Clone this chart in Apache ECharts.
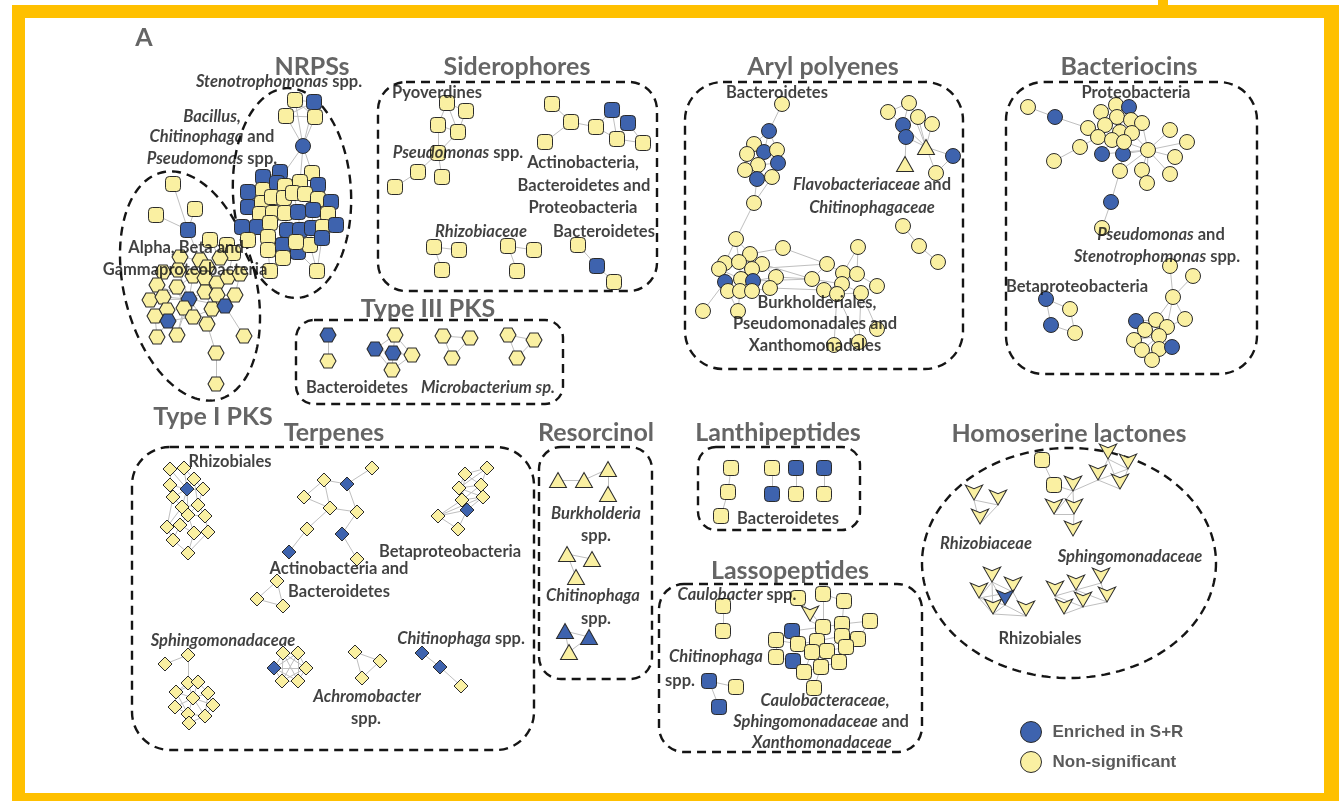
<!DOCTYPE html>
<html><head><meta charset="utf-8">
<script src="https://cdn.jsdelivr.net/npm/echarts@6/dist/echarts.min.js"></script>
<style>
html,body{margin:0;padding:0;background:#fff;overflow:hidden;}
#chart{position:absolute;left:0;top:0;width:1339px;height:801px;}
#frame{position:absolute;left:12px;top:5px;width:1327px;height:796px;box-sizing:border-box;border-style:solid;border-color:#FFC000;border-width:13px 15px 8px 13px;pointer-events:none;}
#tick{position:absolute;left:1158px;top:0;width:10px;height:6px;background:#FFC000;}
</style></head><body>
<div id="chart"></div><div id="frame"></div><div id="tick"></div>
<script>
// ---------------- DATA ----------------
// node: [x, y, enriched(1)/non-significant(0), optional node class]
const nrpsNodes = [
 [295,100,0],[314,102,1],[286,116,0],[315,117,0],[303,146,1,'c'],
 [263,177,1],[280,172,1],[312,173,0],[248,192,1],[263,190,0],
 [277,183,1],[285,186,0],[300,182,0],[318,185,1],[248,207,1],
 [262,203,0],[272,197,0],[284,198,0],[293,193,0],[305,194,0],
 [318,199,0],[331,202,1],[260,214,0],[273,213,0],[285,213,0],
 [298,212,1],[313,210,1],[328,214,0],[242,227,1],[257,227,1],
 [270,223,0],[287,230,1],[300,230,1],[312,228,1],[323,227,0],
 [248,240,0],[268,237,0],[283,245,1],[298,252,1],[310,245,0],
 [322,238,1],[268,250,0],[283,258,0],[270,271,0],[317,271,0],
 [336,225,1],[296,242,0]
];
const nrpsLinks = [[0,1],[0,2],[1,3],[2,3],[0,3],[1,2],[0,4],[1,4],[2,4],[3,4],[4,12],[4,7],[4,10],[5,6],[5,9],[6,10],[7,12],[7,13],[8,9],[8,14],[9,16],[10,11],[11,17],[12,18],[12,19],[13,20],[19,20],[20,21],[14,15],[15,22],[16,23],[17,24],[18,25],[19,26],[20,27],[22,29],[23,30],[24,31],[25,32],[26,33],[27,34],[28,29],[28,35],[29,36],[30,36],[31,37],[32,38],[33,39],[34,40],[21,45],[36,41],[37,42],[41,43],[42,43],[38,44],[39,44],[40,44],[37,46],[46,38],[11,18],[16,17],[23,24],[30,31],[9,15]];

const pks1Nodes = [
 [173,184,0,'s'],[156,215,0,'s'],[195,209,0,'s'],[188,230,1,'s'],[210,240,0,'s'],[227,245,0,'s'],[233,253,0,'s'],
 [180,257,0],[200,260,0],[220,258,0],[207,267,0],[163,272,0],[178,270,0],
 [193,276,0],[205,278,0],[217,283,0],[228,277,0],[240,274,0],
 [157,285,0],[177,287,0],[150,300,0],[163,297,0],[189,299,1],
 [205,292,0],[217,295,0],[235,295,0],[184,308,0],[212,309,0],
 [225,306,1],[167,310,0],[155,316,0],[193,317,0],[168,321,1],
 [207,324,0],[157,337,0],[177,335,0],[244,336,0],[216,353,0],[216,384,0]
];
const pks1Links = [[0,3],[1,3],[2,3],[3,8],[4,9],[5,9],[6,16],[4,8],[7,8],[7,12],[8,10],[9,10],[10,13],[10,14],[12,13],[11,12],[11,18],[13,19],[13,22],[14,15],[15,16],[16,17],[15,24],[14,23],[18,21],[19,21],[20,21],[21,22],[22,23],[23,24],[24,25],[22,26],[23,27],[24,28],[27,28],[26,31],[27,31],[21,29],[29,30],[29,32],[31,32],[31,33],[28,33],[30,34],[32,34],[32,35],[35,26],[28,36],[33,37],[37,38],[17,25],[19,26],[22,28],[18,22],[20,22],[12,22],[22,33],[22,35]];

const sidNodes = [
 [447,103,0],[466,111,0],[438,125,0],[458,132,0],[438,153,0],[418,172,0],[442,177,0],[395,187,0],
 [552,104,0],[571,122,0],[596,127,0],[612,110,1],[628,123,1],[617,139,0],[643,143,0],[545,142,0],
 [434,247,0],[459,250,0],[442,270,0],[508,246,0],[534,250,0],[517,271,0],
 [578,245,0],[597,266,1],[614,282,0]
];
const sidLinks = [[0,1],[0,2],[0,3],[1,3],[2,3],[2,4],[3,4],[4,5],[4,6],[5,7],[8,9],[9,10],[9,15],[10,11],[10,13],[11,12],[11,13],[12,13],[12,14],[13,14],[16,17],[16,18],[19,20],[19,21],[22,23],[23,24]];

const pks3Nodes = [[328,335,1],[328,361,0],[395,335,0],[375,349,1],[393,353,1],[412,355,0],[392,370,0],[443,336,0],[470,338,0],[452,358,0],[508,335,0],[534,340,0],[517,358,0]];
const pks3Links = [[0,1],[2,4],[3,4],[4,5],[4,6],[2,5],[3,6],[2,3],[5,6],[7,8],[7,9],[8,9],[10,11],[10,12],[11,12]];

const arylNodes = [
 [782,104,0],[769,131,1],[754,144,0],[747,154,0],[764,152,1],[777,150,0],[758,165,0],[778,163,1],[745,170,0],[757,179,1],[772,177,0],[754,203,0],
 [909,103,0],[888,112,0],[918,117,0],[932,124,0],[903,125,1],[906,137,1],[926,147,0,'t'],[905,164,0,'t'],[953,156,1],[936,173,0],
 [903,226,0],[919,246,0],[938,262,0],
 [736,239,0],[750,254,0],[783,248,0],[725,263,0],[739,262,0],[762,264,0],[719,269,0],[752,269,0],[741,279,0],[753,281,1],[725,282,1],[776,277,0],[728,291,0],[740,291,0],[752,291,0],[770,288,0],[703,311,0],[738,311,0],
 [858,247,0],[827,264,0],[812,279,0],[843,273,0],[857,274,0],[842,284,0],[824,290,0],[837,294,0],[861,293,0],[877,286,0],[877,329,0],[859,342,0],[834,345,0]
];
const arylLinks = [[0,1],[1,2],[1,4],[1,5],[2,3],[2,4],[3,6],[4,5],[4,6],[4,7],[5,7],[6,7],[6,8],[6,9],[7,10],[8,9],[9,10],[9,11],[10,11],[11,25],
 [12,13],[12,14],[12,16],[13,16],[14,15],[14,16],[16,17],[16,18],[17,18],[17,19],[18,20],[18,21],[20,21],[14,18],[12,18],[15,18],
 [22,23],[23,24],
 [25,26],[25,28],[25,29],[26,29],[26,30],[26,27],[28,31],[29,32],[30,32],[28,29],[31,35],[32,34],[33,34],[33,35],[29,33],[35,37],[37,38],[38,39],[34,39],[36,34],[36,40],[40,39],[35,41],[38,42],[37,42],[30,36],[31,33],[32,33],
 [36,45],[32,44],[27,44],[40,49],[34,45],[30,45],
 [43,46],[43,47],[44,46],[45,48],[46,47],[46,48],[47,48],[48,49],[48,50],[49,50],[50,51],[51,52],[47,52],[48,51],[50,55],[51,53],[51,54],[50,54],[44,45],[45,49]];

const bacNodes = [
 [1028,107,0],[1055,117,1],[1088,128,0],[1080,147,0],[1054,161,0],[1102,154,1],[1123,154,1],[1101,112,0],[1116,105,0],[1129,107,1],
 [1117,117,0],[1131,120,0],[1142,123,0],[1105,125,0],[1120,132,0],[1132,133,0],[1098,137,0],[1112,140,0],[1124,142,0],[1148,150,0],
 [1170,130,0],[1187,142,0],[1175,157,0],[1170,174,0],[1120,171,0],[1142,170,0],[1147,183,0],[1111,202,1],[1102,228,0],
 [1046,299,1],[1070,309,0],[1051,325,1],[1075,333,0],
 [1170,266,0],[1193,276,0],[1173,297,0],[1185,319,0],[1136,321,1],[1156,320,0],[1145,330,0],[1167,327,0],[1159,336,0],[1134,340,0],[1142,350,0],[1159,349,0],[1172,347,1],[1152,360,0]
];
const bacLinks = [[0,1],[1,2],[2,16],[3,4],[3,16],[7,8],[8,9],[7,10],[9,10],[10,11],[11,12],[13,14],[14,15],[16,17],[17,18],[7,13],[10,14],[11,15],[12,15],[15,18],[14,17],[18,19],[15,19],[19,20],[19,21],[19,22],[19,23],[19,6],[19,5],[19,25],[19,26],[19,24],[6,24],[24,27],[27,28],[18,6],[17,5],[12,19],[25,26],[13,16],
 [29,30],[29,31],[30,32],[31,32],
 [33,35],[34,35],[35,36],[35,38],[35,40],[36,40],[37,39],[38,39],[38,40],[39,41],[40,41],[41,42],[41,43],[41,44],[41,45],[42,43],[43,46],[44,46],[44,45],[39,42],[37,38],[46,41]];

const terpRhizNodes = [[170,469,0],[184,468,0],[194,479,0],[170,485,0],[187,489,1],[203,489,0],[173,497,0],[182,507,0],[198,505,0],[188,515,0],[205,516,0],[167,527,0],[180,525,0],[194,533,0],[208,532,0],[173,540,0],[188,553,0]];
const terpRhizLinks = [[0,1],[0,3],[1,2],[1,4],[2,4],[3,4],[2,5],[4,5],[3,6],[4,6],[4,7],[6,7],[7,8],[5,8],[7,9],[8,9],[8,10],[9,10],[9,12],[7,11],[11,12],[12,13],[9,13],[10,14],[13,14],[11,15],[12,15],[15,16],[13,16],[14,16],[4,9],[6,11],[0,4],[2,8]];
const terpActNodes = [[324,480,0],[304,497,0],[347,484,1],[372,468,0],[330,508,0],[307,529,0],[357,512,0],[342,534,1],[289,552,1],[357,559,0],[277,581,0],[257,599,0],[283,606,0]];
const terpActLinks = [[0,1],[0,2],[2,3],[0,4],[1,4],[4,5],[2,6],[4,6],[6,7],[7,9],[5,8],[10,11],[10,12],[11,12]];
const terpBetaNodes = [[487,468,0],[465,474,0],[459,488,0],[481,485,0],[483,497,0],[462,500,0],[467,510,1],[438,516,0],[458,529,0]];
const terpBetaLinks = [[0,1],[0,3],[1,2],[1,3],[2,3],[2,5],[3,4],[4,5],[3,5],[4,6],[5,6],[5,7],[6,7],[6,8],[7,8],[2,4],[0,2],[1,5],[2,6],[4,7]];
const terpSphNodes = [[188,655,0],[165,664,0],[188,683,0],[198,682,0],[176,692,0],[208,693,0],[193,698,0],[175,707,0],[213,705,0],[188,714,0],[205,716,0],[189,723,0]];
const terpSphLinks = [[0,1],[0,2],[2,3],[2,4],[3,5],[4,6],[5,6],[4,7],[5,8],[6,7],[6,8],[7,9],[8,10],[9,10],[9,11],[10,11],[6,9],[6,10],[2,6],[3,6],[4,9],[5,10],[3,4]];
const terpHexNodes = [[283,653,0],[298,653,0],[274,668,1],[306,668,0],[282,681,0],[298,681,0]];
const terpHexLinks = [[0,1],[0,2],[0,3],[0,4],[0,5],[1,2],[1,3],[1,4],[1,5],[2,3],[2,4],[2,5],[3,4],[3,5],[4,5]];
const terpAchNodes = [[355,652,0],[380,661,0],[362,678,0]];
const terpAchLinks = [[0,1],[0,2],[1,2]];
const terpChiNodes = [[422,653,1],[440,667,1],[461,686,0]];
const terpChiLinks = [[0,1],[1,2]];

const resNodes = [[558,480,0],[584,480,0],[608,469,0],[608,494,0],[567,554,0],[592,559,0],[576,577,0],[565,631,1],[589,637,1],[569,652,0]];
const resLinks = [[0,1],[1,2],[2,3],[4,5],[4,6],[7,8],[7,9],[8,9]];

const lanNodes = [[731,468,0],[728,492,0],[721,516,0],[772,468,0],[772,494,1],[796,468,1],[796,494,0],[824,468,1],[824,494,0]];
const lanLinks = [[0,1],[1,2],[3,4],[5,6],[7,8]];

const lasNodes = [[723,606,0],[723,631,0],[709,681,1],[736,687,0],[719,707,1],
 [798,598,0],[823,594,0],[844,601,0],[810,621,0,'a'],[792,631,1],[823,627,0],[842,624,0],[870,621,0],[776,640,0],[798,644,0],[817,641,0],[842,636,0],[858,639,0],[812,652,0],[827,651,0],[846,647,0],[793,661,1],[776,657,0],[804,672,0],[821,667,0],[839,662,0],[814,688,0]];
const lasLinks = [[0,1],[2,3],[2,4],[6,10],[7,11],[6,7],[8,10],[5,10],[9,13],[9,14],[10,15],[10,11],[11,12],[11,16],[12,17],[13,14],[14,15],[15,16],[16,17],[14,18],[15,19],[16,20],[18,19],[19,20],[13,22],[21,22],[21,23],[18,23],[19,24],[20,25],[23,24],[24,25],[24,26],[23,26],[15,18],[16,19],[9,10]];

const hslNodes = [[1042,460,0,'s'],[1054,485,0,'s'],[1073,491,0],[1054,514,0],[1074,514,0],[1073,536,0],[1098,480,0],[1108,459,0],[1128,469,0],[1120,489,0],
 [974,500,0],[998,505,0],[980,524,0],
 [992,582,0],[979,598,0],[993,614,0],[1013,592,0],[1005,605,1],[1026,616,0],
 [1055,596,0],[1076,590,0],[1101,583,0],[1083,607,0],[1107,602,0],[1064,614,0]];
const hslLinks = [[0,1],[1,2],[2,6],[2,3],[2,4],[3,4],[4,5],[6,7],[6,9],[7,8],[8,9],[7,9],[6,8],[10,11],[10,12],[11,12],[13,14],[13,16],[13,17],[14,15],[14,17],[15,17],[16,17],[16,18],[17,18],[15,18],[13,15],[14,16],[19,20],[20,21],[19,22],[20,23],[21,23],[22,23],[24,22],[19,24],[20,22]];

// enclosures: rounded boxes [x1, y1, x2, y2, cornerRadius] and ellipses [cx, cy, rx, ry, tiltDeg]
const boxes = [[378,82,657,291,28],[296,320,563,404,18],[685,82,963,369,38],[1006,82,1257,374,38],[132,447,534,750,38],[539,447,652,679,22],[698,447,860,530,18],[659,584,922,752,25]];
const ellipses = [[292,193,59,105,3],[190,286,66,117,14],[1069,563,147,115,0]];

// text
const titles = [['A',144,38],['NRPSs',312,67],['Siderophores',517,67],['Aryl polyenes',823,67],['Bacteriocins',1129,67],['Type III PKS',428,309],['Type I PKS',213,417],['Terpenes',334,433],['Resorcinol',596,433],['Lanthipeptides',778,433],['Homoserine lactones',1069,434],['Lassopeptides',790,571]];
const notes = [
 ['{i|Stenotrophomonas} spp.',279,82],['{i|Bacillus,}',212,117],['{i|Chitinophaga} and',212,137],['{i|Pseudomonas} spp.',212,159],
 ['Alpha, Beta and',186,248],['Gammaproteobacteria',185,270],
 ['Pyoverdines',437,93],['{i|Pseudomonas} spp.',458,153],['Actinobacteria,',583,163],['Bacteroidetes and',584,186],['Proteobacteria',583,208],['{i|Rhizobiaceae}',481,232],['Bacteroidetes',604,232],
 ['Bacteroidetes',357,388],['{i|Microbacterium sp.}',488,388],
 ['Bacteroidetes',777,93],['{i|Flavobacteriaceae} and',872,185],['{i|Chitinophagaceae}',872,208],['Burkholderiales,',817,303],['Pseudomonadales and',815,324],['Xanthomonadales',815,346],
 ['Proteobacteria',1136,93],['{i|Pseudomonas} and',1161,235],['{i|Stenotrophomonas} spp.',1157,257],['Betaproteobacteria',1077,287],
 ['Rhizobiales',230,462],['Betaproteobacteria',450,552],['Actinobacteria and',339,569],['Bacteroidetes',339,592],['{i|Sphingomonadaceae}',223,641],['{i|Chitinophaga} spp.',461,639],['{i|Achromobacter}',367,697],['spp.',366,719],
 ['{i|Burkholderia}',596,514],['spp.',596,536],['{i|Chitinophaga}',593,596],['spp.',596,619],
 ['Bacteroidetes',788,519],
 ['{i|Caulobacter} spp.',737,595],['{i|Chitinophaga}',716,657],['spp.',680,681],['{i|Caulobacteraceae,}',825,701],['{i|Sphingomonadaceae} and',821,722],['{i|Xanthomonadaceae}',822,743],
 ['{i|Rhizobiaceae}',986,544],['{i|Sphingomonadaceae}',1130,557],['Rhizobiales',1040,639]
];
const legendNames = ['Enriched in S+R','Non-significant'];

// ---------------- STYLE / BUILD ----------------
const BLUE = '#3E63AE', YELLOW = '#FAF0A2', EDGE = '#bfbfbf', INK = '#111';
const SHAPES = {
 s:{symbol:'roundRect', size:15},
 c:{symbol:'circle', size:15},
 h:{symbol:'path://M0,5 L3,0 L9,0 L12,5 L9,10 L3,10 Z', size:[16,14]},
 d:{symbol:'diamond', size:[14,14]},
 t:{symbol:'triangle', size:[17,15]},
 a:{symbol:'arrow', size:[13,15], rotate:180}
};
const networks = [
 [nrpsNodes,nrpsLinks,'s'],[pks1Nodes,pks1Links,'h'],[sidNodes,sidLinks,'s'],[pks3Nodes,pks3Links,'h'],
 [arylNodes,arylLinks,'c'],[bacNodes,bacLinks,'c'],
 [terpRhizNodes,terpRhizLinks,'d'],[terpActNodes,terpActLinks,'d'],[terpBetaNodes,terpBetaLinks,'d'],[terpSphNodes,terpSphLinks,'d'],
 [terpHexNodes,terpHexLinks,'d'],[terpAchNodes,terpAchLinks,'d'],[terpChiNodes,terpChiLinks,'d'],
 [resNodes,resLinks,'t'],[lanNodes,lanLinks,'s'],[lasNodes,lasLinks,'s'],[hslNodes,hslLinks,'a']
];
const edgeData = [], nodeData = [];
networks.forEach(([nodes, links, def]) => {
  links.forEach(([a,b]) => edgeData.push({coords:[[nodes[a][0],nodes[a][1]],[nodes[b][0],nodes[b][1]]]}));
  nodes.forEach(n => {
    const sh = SHAPES[n[3] || def];
    nodeData.push({value:[n[0],n[1]], symbol:sh.symbol, symbolSize:sh.size, symbolRotate:sh.rotate||0,
      itemStyle:{color:n[2]?BLUE:YELLOW}});
  });
});
const FONT = 'Lato';
const NOTE_SIZE = 16.5;
const noteRich = {i:{fontStyle:'italic', fontWeight:'bold', fontSize:NOTE_SIZE, fontFamily:FONT, color:INK}};
const dash = {fill:'none', stroke:'#151515', lineWidth:2.4, lineDash:[9,6]};

const chart = echarts.init(document.getElementById('chart'), null, {renderer:'canvas'});
chart.setOption({
  animation:false,
  backgroundColor:'#fff',
  grid:{left:0,right:0,top:0,bottom:0},
  xAxis:{type:'value',min:0,max:1339,show:false},
  yAxis:{type:'value',min:0,max:801,inverse:true,show:false},
  legend:{left:1015,top:716,orient:'vertical',itemWidth:21,itemHeight:21,itemGap:8,selectedMode:false,icon:'circle',
    itemStyle:{borderColor:'#2b2b2b',borderWidth:1,opacity:1},
    textStyle:{fontFamily:'Liberation Sans',fontWeight:'bold',fontSize:17,color:'#5a5a5a',padding:[0,0,0,6]},data:legendNames},
  series:[
    {type:'custom',silent:true,clip:false,z:1,data:boxes,renderItem:(p,api)=>{
      const a=api.coord([api.value(0),api.value(1)]), b=api.coord([api.value(2),api.value(3)]);
      return {type:'rect',shape:{x:a[0],y:a[1],width:b[0]-a[0],height:b[1]-a[1],r:api.value(4)},style:dash};
    }},
    {type:'custom',silent:true,clip:false,z:1,data:ellipses,renderItem:(p,api)=>{
      const cx=api.value(0), cy=api.value(1), rx=api.value(2), ry=api.value(3), t=api.value(4)*Math.PI/180;
      const pts=[];
      for(let k=0;k<=180;k++){const s=k/180*Math.PI*2;
        pts.push(api.coord([cx+rx*Math.cos(s)*Math.cos(t)+ry*Math.sin(s)*Math.sin(t), cy-rx*Math.cos(s)*Math.sin(t)+ry*Math.sin(s)*Math.cos(t)]));}
      return {type:'polyline',shape:{points:pts},style:dash};
    }},
    {type:'lines',coordinateSystem:'cartesian2d',silent:true,z:2,data:edgeData,lineStyle:{color:EDGE,width:1,opacity:1}},
    {type:'scatter',silent:true,z:3,data:nodeData,itemStyle:{borderColor:'#2b2b2b',borderWidth:1,opacity:1}},
    {type:'scatter',silent:true,z:5,symbolSize:1,itemStyle:{color:'rgba(0,0,0,0)'},
      data:titles.map(t=>({name:t[0],value:[t[1],t[2]]})),
      label:{show:true,position:'inside',formatter:p=>p.name,fontFamily:FONT,fontWeight:'bold',fontSize:25,color:'#3f3f3f'}},
    {type:'scatter',silent:true,z:5,symbolSize:1,itemStyle:{color:'rgba(0,0,0,0)'},
      data:notes.map(t=>({name:t[0],value:[t[1],t[2]]})),
      label:{show:true,position:'inside',formatter:p=>p.name,fontFamily:FONT,fontWeight:'bold',fontSize:NOTE_SIZE,color:INK,rich:noteRich}},
    {type:'scatter',name:legendNames[0],data:[],itemStyle:{color:BLUE,borderColor:'#2b2b2b',borderWidth:1,opacity:1}},
    {type:'scatter',name:legendNames[1],data:[],itemStyle:{color:YELLOW,borderColor:'#2b2b2b',borderWidth:1,opacity:1}}
  ]
});
</script></body></html>
